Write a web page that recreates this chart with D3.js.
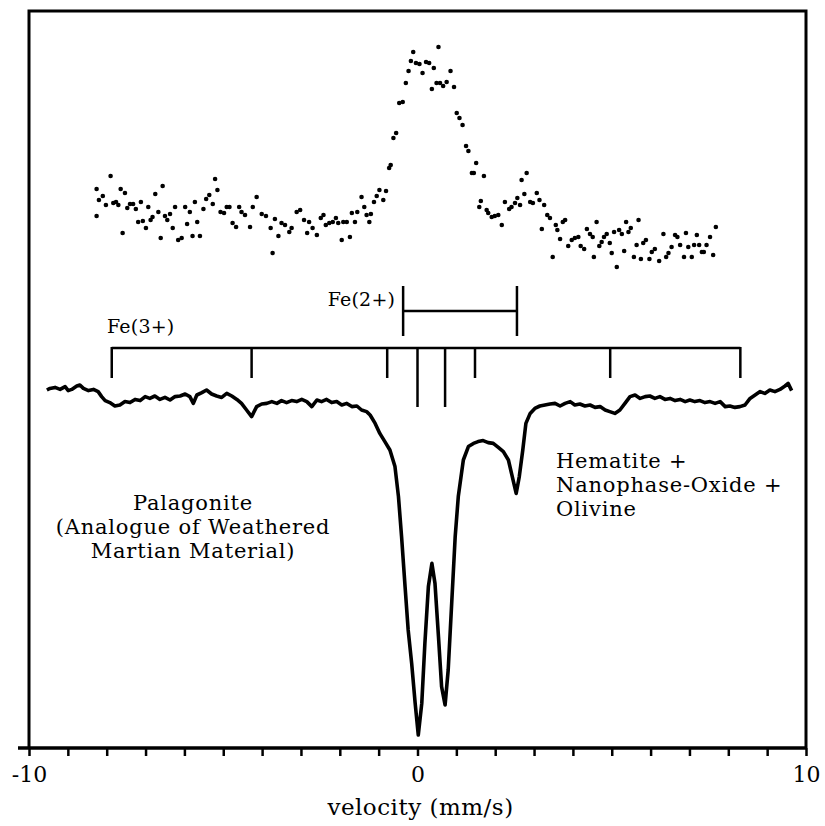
<!DOCTYPE html>
<html>
<head>
<meta charset="utf-8">
<script src="https://cdn.jsdelivr.net/npm/d3@7"></script>
<style>
    body { margin: 0; background: #fff; }
    svg { display: block; }
</style>
</head>
<body>
<svg id="chart" width="825" height="826"></svg>
<script>
// upper spectrum (dots): velocity (mm/s) and relative counts
const scatterV = [-8.26,-8.26,-8.20,-8.10,-8.02,-7.90,-7.83,-7.76,-7.70,-7.64,-7.59,-7.53,-7.47,-7.40,-7.32,-7.25,-7.19,-7.12,-7.07,-6.99,
    -6.93,-6.87,-6.82,-6.75,-6.67,-6.61,-6.56,-6.50,-6.44,-6.37,-6.30,-6.24,-6.16,-6.07,-5.98,-5.93,-5.86,-5.79,-5.73,-5.67,
    -5.60,-5.51,-5.44,-5.36,-5.27,-5.21,-5.15,-5.07,-4.98,-4.91,-4.84,-4.76,-4.67,-4.59,-4.53,-4.44,-4.31,-4.24,
    -4.14,-4.01,-3.90,-3.78,-3.73,-3.67,-3.58,-3.50,-3.41,-3.30,-3.24,-3.11,-3.02,-2.92,-2.84,-2.79,-2.70,-2.59,-2.49,-2.42,
    -2.36,-2.27,-2.18,-2.10,-2.04,-1.95,-1.91,-1.82,-1.74,-1.69,-1.61,-1.55,-1.44,-1.37,-1.31,-1.24,-1.20,-1.12,-1.05,-0.98,
    -0.88,-0.81,-0.73,-0.69,
    -0.62,-0.55,-0.47,-0.38,-0.30,-0.23,-0.17,-0.11,-0.04,0.05,0.13,0.22,0.30,0.37,0.42,0.49,0.54,0.58,0.66,0.75,
    0.85,0.94,1.01,1.08,1.16,1.25,1.31,1.40,1.45,1.51,1.59,1.63,1.71,1.78,1.82,1.91,1.99,2.08,2.17,2.25,
    2.36,2.42,2.51,2.57,2.64,2.68,2.75,2.81,2.90,2.97,3.07,3.14,3.20,3.26,3.34,
    3.41,3.48,3.56,3.60,3.67,3.74,3.80,3.88,3.97,4.05,4.14,4.20,4.29,4.36,4.44,4.51,4.54,4.61,4.68,4.74,
    4.80,4.87,4.95,5.00,5.06,5.13,5.19,5.26,5.32,5.37,5.43,5.49,5.57,5.64,5.69,5.75,5.81,5.88,5.97,6.03,
    6.11,6.22,6.33,6.40,6.46,6.54,6.63,6.69,6.76,6.86,6.91,6.97,7.06,7.12,7.19,7.25,7.32,7.37,7.44,7.53,
    7.61,7.68];
const scatterC = [35.5,22,30,32,27.5,42,28.5,29,27.5,35.5,13.5,33.5,26,28,28,25.5,19,29,19.5,16,
    26.5,20,21.5,33,24,11,37,22,20,23,16,26.5,10,11,26.5,18,24,12,29,19,
    12,25.5,30.5,32.5,28,40.5,35,24,23.5,26.5,26.5,18.5,16.5,26.5,24,22.5,16.5,26.5,
    31.5,23,22,16,3.5,20.5,12,18.5,17.5,14,16,24,25,20,13.5,19,16,12.5,21,22.5,
    17.5,18.5,19,21,18.5,10,19,19,11.5,23.5,19,24,31.5,26.5,22.5,19,23,29,32,35,
    30,34.5,46,47.5,
    61,63.5,78.5,79,88.5,94.5,99.5,104,98.5,98,93.5,99,98.5,85.5,96,88.5,106.5,88.5,87,89,
    94.5,86.5,73.5,71,67.5,57,54.5,43.5,43.5,48.5,26.5,29.5,42,25,23.5,21.5,22,22.5,17.5,29,
    25.5,26.5,28.5,31,27.5,40,33,43.5,29,28.5,33.5,30,15.5,27.5,22.5,
    21,1.5,17.5,15,10.5,19,20,7,10,11,11.5,7,5.5,15.5,13,11.5,1.5,19,7,9,
    11.5,13,8.5,3.5,14,-3.5,15,13,4.5,19,14,16,1.5,7.5,20,0.5,8.5,10,0.5,4,
    5.5,-0.5,13,1.5,3.5,6.5,12.5,11.5,7.5,1.5,13.5,6.5,1.5,7.5,12.5,7.5,4,4,7.5,11.5,
    2.5,16.5];

// lower spectrum (line): velocity (mm/s) and absorption (arb.)
const specV = [-9.54,-9.46,-9.33,-9.20,-9.07,-8.99,-8.90,-8.77,-8.69,-8.60,-8.47,-8.34,-8.22,-8.13,-8.04,-7.92,-7.79,-7.66,-7.53,-7.40,
    -7.27,-7.14,-7.01,-6.89,-6.76,-6.63,-6.50,-6.37,-6.24,-6.11,-5.98,-5.86,-5.77,-5.68,-5.55,-5.43,-5.30,-5.17,-5.04,-4.91,
    -4.78,-4.65,-4.53,-4.40,-4.27,-4.14,-4.01,-3.88,-3.75,-3.62,-3.50,-3.37,-3.24,-3.11,-2.98,-2.85,-2.72,-2.59,-2.47,-2.34,
    -2.21,-2.08,-1.95,-1.82,-1.69,-1.56,-1.44,-1.31,
    -1.22,-1.09,-0.97,-0.84,-0.71,-0.58,-0.49,-0.41,-0.32,-0.24,-0.15,-0.06,0.02,0.11,0.19,0.28,0.37,0.45,0.54,0.62,
    0.71,0.79,0.88,0.97,1.05,1.18,1.31,1.44,1.56,1.69,1.82,1.95,2.08,2.21,2.34,2.42,2.54,2.62,2.71,2.79,
    2.90,3.02,3.15,3.28,3.41,3.54,3.67,3.80,3.93,4.05,4.18,4.31,4.44,4.57,4.70,4.83,4.95,5.08,5.21,5.34,
    5.47,5.60,5.73,5.86,5.98,6.11,6.24,6.37,6.50,6.63,6.76,6.89,7.01,7.14,7.27,7.40,7.53,7.66,7.79,7.92,
    8.04,8.17,8.30,8.43,8.56,8.69,8.82,8.94,9.07,9.20,9.33,9.46,9.54,9.63];
const specA = [5,4.2,3.7,4.7,3.3,5.3,4.7,3,2.5,4.2,5.3,4.7,5.8,8.3,10.3,11.3,13,12.5,10.8,11.3,
    9.7,10.3,8.3,9.2,8,9.7,8.7,10,8.3,8,7,8.3,11.7,7.5,6.3,5,7,8,8.7,6.7,
    8,9.7,11.7,15,18.3,13.3,12,11.7,10.8,11.7,10.3,11.3,10.3,10.8,9.7,10.8,13.3,10,10.8,9.7,
    11.3,10.8,12.5,11.7,13.3,13,15,15.8,
    17.5,21.7,26.7,30.8,35,43.3,58.3,78.3,103.3,125,141.7,161.7,177.5,161.7,131.7,103.3,91.7,101.7,128.3,153.3,
    162.5,145,111.7,78.3,58.3,40,33.3,31.7,30.8,30.3,31.3,31.7,33.7,35.8,40,46.7,56.7,48.3,35,21.7,
    16.7,14.2,13,12.5,12,11.7,13,11.7,10.8,12.5,12,13,12.5,13.7,13.3,15,15.8,16.7,15,11.7,
    8.3,7.5,9.2,8.3,8,9.2,8.3,9.7,9.2,10.3,9.7,10.8,10,10.8,10.3,11.3,10.8,11.7,10.8,13.3,
    13,13.7,13.3,12.5,9.2,7.5,5.8,6.7,5,5.8,4.7,3,1.7,5.3];

// line positions marked above the lower spectrum (mm/s)
const fe3Lines = [-7.87, -4.27, -0.78, 0, 0.71, 1.48, 4.96, 8.31];
const fe3Long = [0, 0.71];
const fe2Lines = [-0.37, 2.56];

const xTicks = [-10,-9,-8,-7,-6,-5,-4,-3,-2,-1,0,1,2,3,4,5,6,7,8,9,10];
const xTickLabels = {"-10": "-10", "0": "0", "10": "10"};
const xTitle = "velocity (mm/s)";
const palagoniteText = ["Palagonite", "(Analogue of Weathered", "Martian Material)"];
const hematiteText = ["Hematite +", "Nanophase-Oxide +", "Olivine"];

let font = "'DejaVu Serif', serif";
let ink = "#000";

let svg = d3.select("#chart");
svg.append("rect").attr("width", 825).attr("height", 826).attr("fill", "#fff");

let x = d3.scaleLinear().domain([-10, 10]).range([29, 806]);
let yTop = d3.scaleLinear().domain([0, 100]).range([260, 60]);
let yLow = d3.scaleLinear().domain([0, 185]).range([380, 750]);

let frameTop = 11;
let axisY = 748;

// frame (left, top, right)
svg.append("path")
    .attr("fill", "none")
    .attr("stroke", ink)
    .attr("stroke-width", 3)
    .attr("d", `M${x(-10)},${axisY} V${frameTop} H${x(10)} V${axisY}`);

// bottom axis
let axis = d3.axisBottom(x)
    .tickValues(xTicks)
    .tickSize(8)
    .tickSizeOuter(0)
    .tickPadding(10)
    .tickFormat(d => xTickLabels[d] || "");

let gx = svg.append("g")
    .attr("transform", `translate(0,${axisY})`)
    .call(axis);
gx.select(".domain").remove();
gx.selectAll(".tick line").attr("stroke", ink).attr("stroke-width", 2.5);
gx.selectAll(".tick text")
    .attr("fill", ink)
    .attr("font-family", font)
    .attr("font-size", 22);

svg.append("line")
    .attr("x1", x(-10) - 11).attr("x2", x(10) + 1)
    .attr("y1", axisY).attr("y2", axisY)
    .attr("stroke", ink).attr("stroke-width", 3.5);

svg.append("text")
    .attr("x", x(0) + 3)
    .attr("y", 815)
    .attr("text-anchor", "middle")
    .attr("font-family", font)
    .attr("font-size", 23)
    .attr("letter-spacing", 0.5)
    .attr("fill", ink)
    .text(xTitle);

// upper spectrum: dots
let dots = scatterV.map((v, i) => ({v: v, c: scatterC[i]}));
svg.append("g").selectAll("circle")
    .data(dots)
    .join("circle")
    .attr("cx", d => x(d.v))
    .attr("cy", d => yTop(d.c))
    .attr("r", 2.3)
    .attr("fill", ink);

// lower spectrum: line
let spec = specV.map((v, i) => [v, specA[i]]);
let line = d3.line()
    .x(d => x(d[0]))
    .y(d => yLow(d[1]));
svg.append("path")
    .datum(spec)
    .attr("fill", "none")
    .attr("stroke", ink)
    .attr("stroke-width", 3.6)
    .attr("stroke-linejoin", "round")
    .attr("d", line);

// Fe(3+) bracket
let fe3Y = 348;
svg.append("line")
    .attr("x1", x(d3.min(fe3Lines))).attr("x2", x(d3.max(fe3Lines)))
    .attr("y1", fe3Y).attr("y2", fe3Y)
    .attr("stroke", ink).attr("stroke-width", 2.5);
svg.append("g").selectAll("line")
    .data(fe3Lines)
    .join("line")
    .attr("x1", d => x(d)).attr("x2", d => x(d))
    .attr("y1", fe3Y - 1)
    .attr("y2", d => fe3Long.includes(d) ? 407 : 378)
    .attr("stroke", ink).attr("stroke-width", 2.5);

// Fe(2+) bracket
let fe2Y = 311;
svg.append("line")
    .attr("x1", x(fe2Lines[0])).attr("x2", x(fe2Lines[1]))
    .attr("y1", fe2Y).attr("y2", fe2Y)
    .attr("stroke", ink).attr("stroke-width", 2.5);
svg.append("g").selectAll("line")
    .data(fe2Lines)
    .join("line")
    .attr("x1", d => x(d)).attr("x2", d => x(d))
    .attr("y1", 286).attr("y2", 336)
    .attr("stroke", ink).attr("stroke-width", 2.5);

// labels
let label = (txt, px, py, anchor, size, spacing) => svg.append("text")
    .attr("x", px).attr("y", py)
    .attr("text-anchor", anchor)
    .attr("font-family", font)
    .attr("font-size", size)
    .attr("letter-spacing", spacing)
    .attr("fill", ink)
    .text(txt);

label("Fe(2+)", x(fe2Lines[0]) - 8, 306, "end", 19, 0.2);
label("Fe(3+)", 107, 333, "start", 19, 0.2);

palagoniteText.forEach((t, i) => label(t, 193, 510 + i * 24, "middle", 21, 0.8));
hematiteText.forEach((t, i) => label(t, 556, 468 + i * 24, "start", 21, 0.8));
</script>
</body>
</html>
